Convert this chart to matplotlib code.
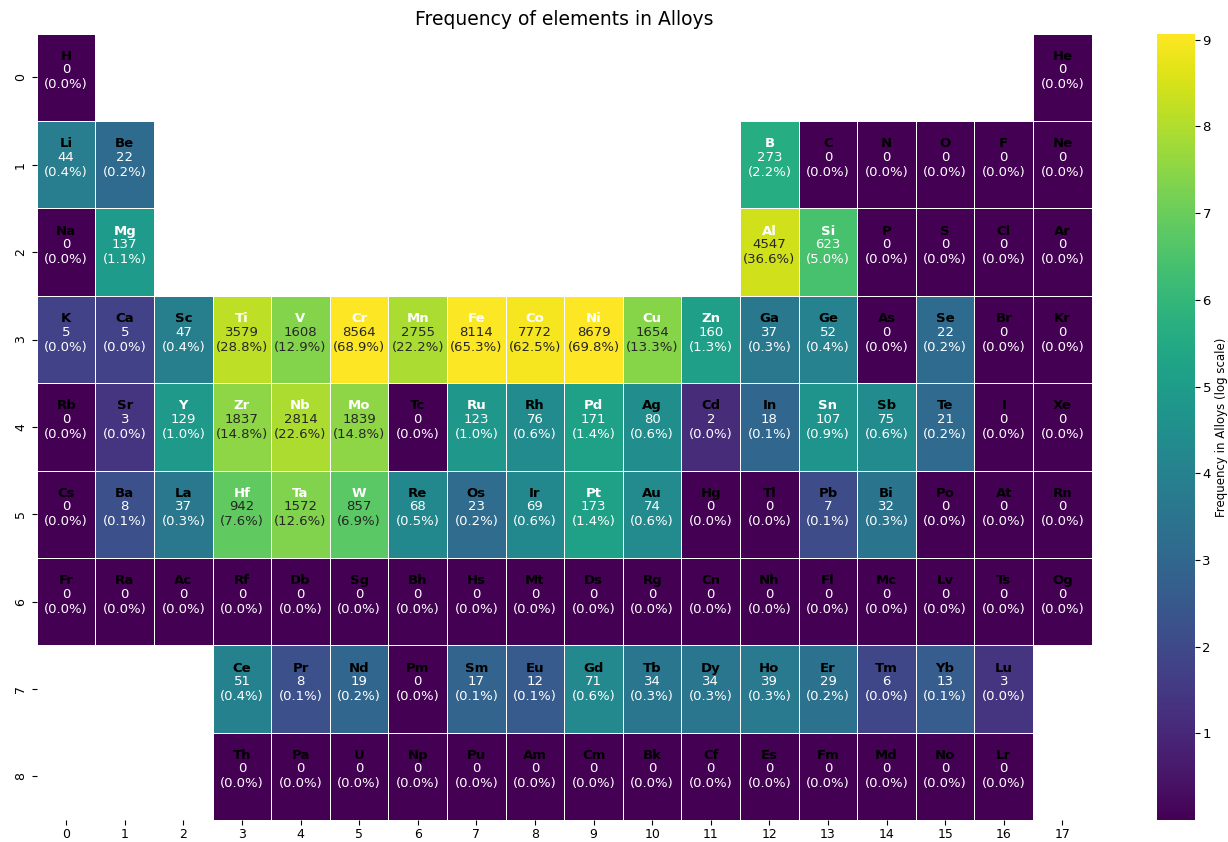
import numpy as np
import matplotlib
matplotlib.use("Agg")
import matplotlib.pyplot as plt
import seaborn as sns

# --- Periodic table layout (row, col, symbol, number of alloys containing it) ---
symbols = [
    ["H"] + [""] * 16 + ["He"],
    ["Li", "Be"] + [""] * 10 + ["B", "C", "N", "O", "F", "Ne"],
    ["Na", "Mg"] + [""] * 10 + ["Al", "Si", "P", "S", "Cl", "Ar"],
    ["K", "Ca", "Sc", "Ti", "V", "Cr", "Mn", "Fe", "Co", "Ni", "Cu", "Zn",
     "Ga", "Ge", "As", "Se", "Br", "Kr"],
    ["Rb", "Sr", "Y", "Zr", "Nb", "Mo", "Tc", "Ru", "Rh", "Pd", "Ag", "Cd",
     "In", "Sn", "Sb", "Te", "I", "Xe"],
    ["Cs", "Ba", "La", "Hf", "Ta", "W", "Re", "Os", "Ir", "Pt", "Au", "Hg",
     "Tl", "Pb", "Bi", "Po", "At", "Rn"],
    ["Fr", "Ra", "Ac", "Rf", "Db", "Sg", "Bh", "Hs", "Mt", "Ds", "Rg", "Cn",
     "Nh", "Fl", "Mc", "Lv", "Ts", "Og"],
    [""] * 3 + ["Ce", "Pr", "Nd", "Pm", "Sm", "Eu", "Gd", "Tb", "Dy", "Ho",
                "Er", "Tm", "Yb", "Lu", ""],
    [""] * 3 + ["Th", "Pa", "U", "Np", "Pu", "Am", "Cm", "Bk", "Cf", "Es",
                "Fm", "Md", "No", "Lr", ""],
]

counts = {
    "H": 0, "He": 0,
    "Li": 44, "Be": 22, "B": 273, "C": 0, "N": 0, "O": 0, "F": 0, "Ne": 0,
    "Na": 0, "Mg": 137, "Al": 4547, "Si": 623, "P": 0, "S": 0, "Cl": 0, "Ar": 0,
    "K": 5, "Ca": 5, "Sc": 47, "Ti": 3579, "V": 1608, "Cr": 8564, "Mn": 2755,
    "Fe": 8114, "Co": 7772, "Ni": 8679, "Cu": 1654, "Zn": 160, "Ga": 37,
    "Ge": 52, "As": 0, "Se": 22, "Br": 0, "Kr": 0,
    "Rb": 0, "Sr": 3, "Y": 129, "Zr": 1837, "Nb": 2814, "Mo": 1839, "Tc": 0,
    "Ru": 123, "Rh": 76, "Pd": 171, "Ag": 80, "Cd": 2, "In": 18, "Sn": 107,
    "Sb": 75, "Te": 21, "I": 0, "Xe": 0,
    "Cs": 0, "Ba": 8, "La": 37, "Hf": 942, "Ta": 1572, "W": 857, "Re": 68,
    "Os": 23, "Ir": 69, "Pt": 173, "Au": 74, "Hg": 0, "Tl": 0, "Pb": 7,
    "Bi": 32, "Po": 0, "At": 0, "Rn": 0,
    "Ce": 51, "Pr": 8, "Nd": 19, "Pm": 0, "Sm": 17, "Eu": 12, "Gd": 71,
    "Tb": 34, "Dy": 34, "Ho": 39, "Er": 29, "Tm": 6, "Yb": 13, "Lu": 3,
}

total_alloys = 12430

n_rows, n_cols = len(symbols), len(symbols[0])
grid = np.full((n_rows, n_cols), np.nan)
annot = np.full((n_rows, n_cols), "", dtype=object)
for i, row in enumerate(symbols):
    for j, sym in enumerate(row):
        if not sym:
            continue
        c = counts.get(sym, 0)
        grid[i, j] = np.log(c + 1)
        annot[i, j] = f"{c}\n({100 * c / total_alloys:.1f}%)"

vmax = np.nanmax(grid)

fig = plt.figure(figsize=(12.28, 8.42), dpi=100)
ax = fig.add_axes([0.030, 0.026, 0.859, 0.934])
cax = fig.add_axes([0.942, 0.026, 0.031, 0.934])

sns.heatmap(grid, ax=ax, cbar_ax=cax, cmap="viridis", vmin=0, vmax=vmax,
            annot=annot, fmt="", annot_kws={"fontsize": 9.5},
            linewidths=0.6, linecolor="white",
            cbar_kws={"label": "Frequency in Alloys (log scale)",
                      "ticks": list(range(1, 10))})

# element symbols on top of each cell
for i, row in enumerate(symbols):
    for j, sym in enumerate(row):
        if not sym:
            continue
        col = "white" if grid[i, j] > vmax / 2 else "black"
        ax.text(j + 0.5, i + 0.26, sym, ha="center", va="center",
                fontsize=9.5, fontweight="bold", color=col)

ax.set_title("Frequency of elements in Alloys", fontsize=13.5, pad=6)
ax.set_xticks(np.arange(n_cols) + 0.5)
ax.set_xticklabels([str(k) for k in range(n_cols)], fontsize=9)
ax.set_yticks(np.arange(n_rows) + 0.5)
ax.set_yticklabels([str(k) for k in range(n_rows)], fontsize=9, rotation=90, va="center")
ax.tick_params(axis="x", pad=2)

cax.tick_params(labelsize=9.5, pad=2)
cax.set_ylabel("Frequency in Alloys (log scale)", fontsize=8.5, labelpad=3)

fig.savefig("out.png", dpi=100)
